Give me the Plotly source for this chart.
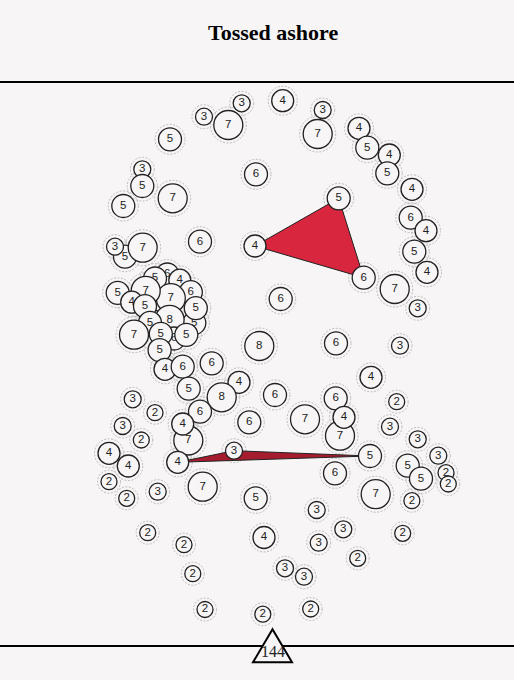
import plotly.graph_objects as go

BG = '#f7f5f6'
INK = '#222222'
RING = '#bcbcbc'
RED = '#d7263d'
DARK_RED = '#a51c2e'

TITLE = 'Tossed ashore'
TOTAL = 144

# circle centres (in the chart's own units) and the count written in each
X = [241.7, 282.7, 322.7, 204.0, 228.3, 317.7, 359.0, 367.3, 389.3, 387.3,
     170.0, 142.3, 142.3, 172.7, 123.3, 256.0, 412.0, 338.7, 410.7, 426.0,
     414.3, 427.0, 363.7, 394.7, 417.7, 200.0, 255.0, 125.0, 142.7, 115.0,
     158.3, 167.3, 155.0, 179.8, 190.8, 170.8, 145.7, 117.7, 131.7, 145.0,
     194.3, 195.8, 169.6, 150.0, 134.0, 174.0, 186.3, 160.8, 159.6,
     165.0, 182.7, 211.7, 259.3, 280.7, 188.7, 239.0, 221.7, 275.0, 132.7,
     155.0, 200.0, 249.3, 122.7, 141.3, 188.3, 182.7, 109.0, 128.3, 177.7,
     234.0, 109.0, 157.7, 202.7, 126.7, 255.7, 147.7, 184.0, 264.0, 192.8,
     205.0, 262.8, 285.0, 304.0, 310.7, 316.7, 343.3, 318.7, 357.7, 402.7,
     411.9, 375.7,
     336.0, 400.0, 371.0, 335.7, 396.7, 305.0, 340.0, 344.0, 390.0, 417.7,
     370.0, 438.3, 407.7, 421.0, 446.0, 448.3, 335.0]
Y = [103.3, 100.7, 110.0, 116.7, 125.0, 134.0, 128.3, 147.7, 155.0, 173.3,
     139.3, 169.3, 186.0, 198.3, 206.0, 174.3, 189.3, 198.3, 217.7, 230.7,
     251.7, 272.3, 277.7, 289.0, 308.3, 241.7, 246.0, 256.7, 247.7, 246.7,
     299.3, 274.5, 278.5, 280.2, 292.2, 298.2, 290.8, 292.8, 302.2, 306.2,
     323.0, 308.2, 319.8, 322.8, 334.7, 338.5, 334.8, 333.8, 350.2,
     369.3, 366.7, 363.3, 346.0, 299.0, 388.7, 382.3, 397.3, 395.0, 399.3,
     412.7, 411.7, 422.3, 426.0, 440.0, 440.5, 424.0, 453.3, 466.0, 462.3,
     450.7, 481.7, 491.7, 486.7, 498.3, 498.3, 532.7, 544.7, 537.5, 573.7,
     609.5, 614.2, 568.3, 576.7, 609.0, 510.0, 529.3, 542.7, 558.3, 533.3,
     500.7, 494.2,
     343.3, 345.7, 377.3, 398.3, 401.7, 419.3, 435.7, 417.3, 426.7, 439.3,
     456.0, 455.7, 465.7, 478.7, 472.7, 484.0, 473.3]
VALUES = [3, 4, 3, 3, 7, 7, 4, 5, 4, 5,
          5, 3, 5, 7, 5, 6, 4, 5, 6, 4,
          5, 4, 6, 7, 3, 6, 4, 5, 7, 3,
          5, 6, 5, 4, 6, 7, 7, 5, 4, 5,
          5, 5, 8, 5, 7, 6, 5, 5, 5,
          4, 6, 6, 8, 6, 5, 4, 8, 6, 3,
          2, 6, 6, 3, 2, 7, 4, 4, 4, 4,
          3, 2, 3, 7, 2, 5, 2, 2, 4, 2,
          2, 2, 3, 3, 2, 3, 3, 3, 2, 2,
          2, 7,
          6, 3, 4, 6, 2, 7, 7, 4, 3, 3,
          5, 3, 5, 5, 2, 2, 6]

# circles joined by the two red triangles
RED_TRIANGLE = [26, 17, 22]
DARK_TRIANGLE = [68, 69, 101]

RADIUS = {2: 8, 3: 8.5, 4: 11, 5: 11.5, 6: 11.5, 7: 14.5, 8: 14.5}
RING_GAP = 3.5

W, H = 514, 680
CENTER_X = 272.5
RULE_TOP = 82
RULE_BOTTOM = 646

fig = go.Figure()

for tri, color in [(RED_TRIANGLE, RED), (DARK_TRIANGLE, DARK_RED)]:
    fig.add_trace(go.Scatter(
        x=[X[i] for i in tri] + [X[tri[0]]],
        y=[Y[i] for i in tri] + [Y[tri[0]]],
        mode='lines', fill='toself', fillcolor=color,
        line=dict(color=INK, width=1),
        hoverinfo='skip', showlegend=False
    ))

shapes = []
for x, y, v in zip(X, Y, VALUES):
    r = RADIUS[v] + RING_GAP
    shapes.append(dict(
        type='circle', xref='x', yref='y', xsizemode='pixel', ysizemode='pixel',
        xanchor=x, yanchor=y, x0=-r, x1=r, y0=-r, y1=r,
        line=dict(color=RING, width=1, dash='2px,1.5px'), layer='below'
    ))
    fig.add_trace(go.Scatter(
        x=[x], y=[y], mode='markers+text', text=[str(v)],
        textposition='middle center',
        textfont=dict(family='Liberation Sans', size=11.5, color=INK),
        marker=dict(size=2 * RADIUS[v], color=BG, line=dict(color=INK, width=1.3)),
        hoverinfo='skip', showlegend=False, cliponaxis=False
    ))

# rules above and below the swarm
for y in [RULE_TOP, RULE_BOTTOM]:
    shapes.append(dict(type='line', xref='paper', yref='y', x0=0, x1=1, y0=y, y1=y,
                       line=dict(color='black', width=2), layer='above'))

# triangle marker holding the total
shapes.append(dict(
    type='path', xref='x', yref='y', xsizemode='pixel', ysizemode='pixel',
    xanchor=CENTER_X, yanchor=RULE_BOTTOM,
    path='M 0 16.7 L 19.5 -16.3 L -19.5 -16.3 Z',
    fillcolor=BG, line=dict(color='black', width=2), layer='above'
))

fig.add_annotation(x=CENTER_X, y=RULE_BOTTOM + 5.5, text=str(TOTAL), showarrow=False,
                   font=dict(family='Liberation Serif', size=16, color=INK))
fig.add_annotation(x=CENTER_X, y=32, text=TITLE, showarrow=False,
                   font=dict(family='Liberation Serif', size=22, color='black', weight=700))

fig.update_layout(
    width=W, height=H,
    margin=dict(l=0, r=0, t=0, b=0),
    paper_bgcolor=BG, plot_bgcolor=BG,
    shapes=shapes,
    xaxis=dict(range=[0, W], visible=False, fixedrange=True),
    yaxis=dict(range=[H, 0], visible=False, fixedrange=True),
    showlegend=False
)

fig.write_html("out.html", config=dict(displayModeBar=False),
               post_script="document.body.style.margin='0';document.body.style.overflow='hidden';")
